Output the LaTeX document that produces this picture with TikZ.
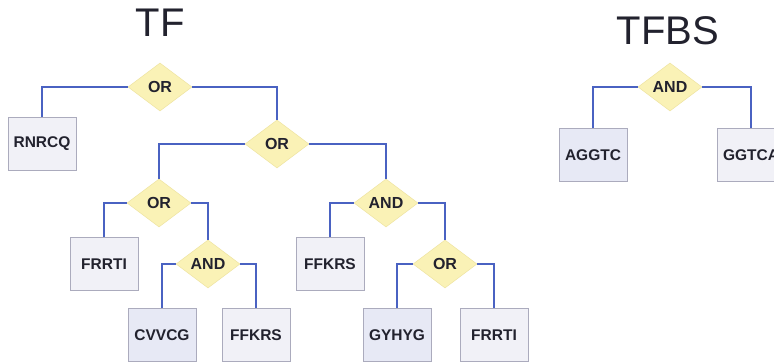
\documentclass[tikz,border=0pt]{standalone}
\usepackage{fontspec}
\setmainfont{Liberation Sans}
\usetikzlibrary{shapes.geometric}
\definecolor{wire}{HTML}{4A62C2}
\definecolor{gatefill}{HTML}{FAF2B6}
\definecolor{gateedge}{HTML}{EFE4A2}
\definecolor{leaffill}{HTML}{F1F1F7}
\definecolor{leafblue}{HTML}{E7E9F5}
\definecolor{leafedge}{HTML}{ABABBD}
\definecolor{ink}{HTML}{22222E}
\tikzset{
  gate/.style={diamond, aspect=1.33, minimum width=64pt, minimum height=48pt,
    inner sep=0pt, fill=gatefill, draw=gateedge, line width=0.5pt,
    text=ink, font=\bfseries\fontsize{16}{16}\selectfont},
  leaf/.style={rectangle, minimum width=68pt, minimum height=53pt, inner sep=0pt,
    fill=leaffill, draw=leafedge, line width=0.6pt,
    text=ink, font=\bfseries\fontsize{15.5}{15.5}\selectfont},
  leafb/.style={leaf, fill=leafblue},
  wirestyle/.style={draw=wire, line width=2.3pt},
  title/.style={anchor=base, inner sep=0pt, text=ink, font=\fontsize{40}{40}\selectfont}
}
\begin{document}
\begin{tikzpicture}[x=1pt,y=-1pt]
\useasboundingbox (0,0) rectangle (774,363);
\clip (0,0) rectangle (774,363);
\fill[white] (0,0) rectangle (774,363);

% headings
\node[title] (tf) at (160,37) {TF};
\node[title] (tfbs) at (668,45) {TFBS};

% TF expression tree
\node[gate] (or1) at (160,87) {OR};
\node[leaf] (rnrcq) at (42,144) {RNRCQ};
\node[gate] (or2) at (277,144) {OR};
\node[gate] (or3) at (159,203) {OR};
\node[gate] (and1) at (386,203) {AND};
\node[leaf] (frrtia) at (104,264) {FRRTI};
\node[gate] (and2) at (208,264) {AND};
\node[leafb] (cvvcg) at (162,335) {CVVCG};
\node[leaf] (ffkrsb) at (256,335) {FFKRS};
\node[leaf] (ffkrsa) at (330,264) {FFKRS};
\node[gate] (or4) at (445,264) {OR};
\node[leafb] (gyhyg) at (397,335) {GYHYG};
\node[leaf] (frrtib) at (494,335) {FRRTI};

% TFBS expression tree
\node[gate] (and3) at (670,87) {AND};
\node[leafb] (aggtc) at (593,155) {AGGTC};
\node[leaf] (ggtca) at (751,155) {GGTCA};

% connectors: horizontal from each gate corner, then down to the child
\draw[wirestyle] (or1.west) -| (rnrcq.north);
\draw[wirestyle] (or1.east) -| (or2.north);
\draw[wirestyle] (or2.west) -| (or3.north);
\draw[wirestyle] (or2.east) -| (and1.north);
\draw[wirestyle] (or3.west) -| (frrtia.north);
\draw[wirestyle] (or3.east) -| (and2.north);
\draw[wirestyle] (and2.west) -| (cvvcg.north);
\draw[wirestyle] (and2.east) -| (ffkrsb.north);
\draw[wirestyle] (and1.west) -| (ffkrsa.north);
\draw[wirestyle] (and1.east) -| (or4.north);
\draw[wirestyle] (or4.west) -| (gyhyg.north);
\draw[wirestyle] (or4.east) -| (frrtib.north);
\draw[wirestyle] (and3.west) -| (aggtc.north);
\draw[wirestyle] (and3.east) -| (ggtca.north);
\end{tikzpicture}
\end{document}
